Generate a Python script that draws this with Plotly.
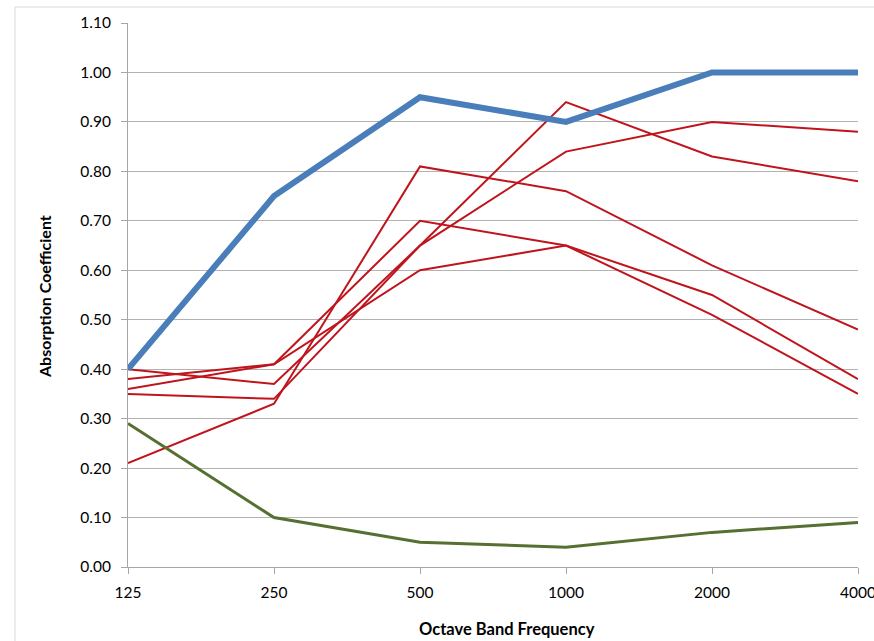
import plotly.graph_objects as go

categories = ["125", "250", "500", "1000", "2000", "4000"]

blue_series = [0.40, 0.75, 0.95, 0.90, 1.00, 1.00]
green_series = [0.29, 0.10, 0.05, 0.04, 0.07, 0.09]
red_1 = [0.21, 0.33, 0.81, 0.76, 0.61, 0.48]
red_2 = [0.38, 0.41, 0.70, 0.65, 0.55, 0.38]
red_3 = [0.36, 0.41, 0.60, 0.65, 0.51, 0.35]
red_4 = [0.40, 0.37, 0.65, 0.94, 0.83, 0.78]
red_5 = [0.35, 0.34, 0.65, 0.84, 0.90, 0.88]

y_ticks = [round(i * 0.1, 2) for i in range(12)]

xs = list(range(len(categories)))

fig = go.Figure()
for s in [red_1, red_2, red_3, red_4, red_5]:
    fig.add_trace(go.Scatter(x=xs, y=s, mode="lines",
                             line=dict(color="#C0141C", width=2), showlegend=False))
fig.add_trace(go.Scatter(x=xs, y=green_series, mode="lines",
                         line=dict(color="#557030", width=3), showlegend=False))
fig.add_trace(go.Scatter(x=xs, y=blue_series, mode="lines",
                         line=dict(color="#4A7EBB", width=6), showlegend=False))

W, H = 874, 641
L, R, T, B = 128, 858, 23, 567

def px(x):
    return (x - L) / (R - L)

def py(y):
    return (B - y) / (B - T)

font = "Lato, 'Liberation Sans', sans-serif"

fig.update_layout(
    width=W, height=H,
    margin=dict(l=L, r=W - R, t=T, b=H - B, pad=0, autoexpand=False),
    paper_bgcolor="white", plot_bgcolor="white",
    font=dict(family=font, size=15.5, color="#000000"),
    xaxis=dict(
        range=[0, 5], tickmode="array", tickvals=xs, ticktext=categories,
        showgrid=False, zeroline=False, showline=True, linecolor="#A6A6A6",
        linewidth=1, ticks="outside", ticklen=6, tickcolor="#A6A6A6",
        ticklabelstandoff=5, tickfont=dict(size=15.5),
        ticklabeloverflow="allow", automargin=False,
    ),
    yaxis=dict(
        range=[0, 1.1], tickmode="array", tickvals=y_ticks,
        ticktext=[f"{v:.2f}" for v in y_ticks],
        showgrid=True, gridcolor="#B3B3B3", gridwidth=1, zeroline=False,
        showline=True, linecolor="#A6A6A6", linewidth=1,
        ticks="outside", ticklen=6, tickcolor="#A6A6A6",
        ticklabelstandoff=7, tickfont=dict(size=15.5), automargin=False,
    ),
    annotations=[
        dict(text="<b>Octave Band Frequency</b>", xref="paper", yref="paper",
             x=px(507), y=py(629), showarrow=False, xanchor="center",
             yanchor="middle", font=dict(size=16.5)),
        dict(text="<b>Absorption Coefficient</b>", xref="paper", yref="paper",
             x=px(44), y=py(297), showarrow=False, xanchor="center",
             yanchor="middle", textangle=-90, font=dict(size=16)),
    ],
    shapes=[
        dict(type="rect", xref="paper", yref="paper",
             x0=px(15), y0=py(700), x1=px(950), y1=py(7),
             line=dict(color="#D9D9D9", width=1), fillcolor="rgba(0,0,0,0)",
             layer="below"),
    ],
)

fig.write_html(
    "out.html",
    config={"responsive": False, "displayModeBar": False},
    post_script="document.body.style.margin='0';document.body.style.overflow='hidden';",
)
